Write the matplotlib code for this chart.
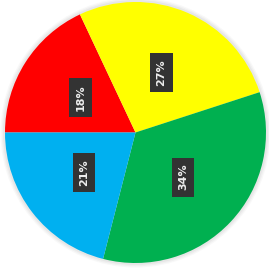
import matplotlib
matplotlib.use("Agg")
import matplotlib.pyplot as plt
from matplotlib.patches import Circle

labels = ["A", "B", "C", "D"]
values = [18, 27, 34, 21]
colors = ["#FF0000", "#FFFF00", "#00B050", "#00B0F0"]

fig = plt.figure(figsize=(2.69, 2.71), dpi=100)
fig.patch.set_facecolor("white")
ax = fig.add_axes([0, 0, 1, 1])

# soft shadow around pie
for r, a in [(1.035, 0.05), (1.025, 0.07), (1.015, 0.09)]:
    ax.add_patch(Circle((0, 0), r, color="#888888", alpha=a, lw=0, zorder=0))

wedges, texts, autotexts = ax.pie(
    values, colors=colors, startangle=180, counterclock=False,
    autopct="%1.0f%%", pctdistance=0.5, radius=1.0,
    wedgeprops=dict(linewidth=0),
    textprops=dict(color="#eeeeee", fontsize=8, fontweight="bold",
                   family="DejaVu Sans"),
)
for w in wedges:
    w.set_zorder(2)
for t in autotexts:
    t.set_rotation(90)
    t.set_zorder(3)
    t.set_bbox(dict(boxstyle="square,pad=0.55", facecolor="#333333",
                    edgecolor="none"))

R = 130.5
cx, cy = 135.5, 132.5
ax.set_aspect("auto")
ax.set_xlim(-cx / R, (269 - cx) / R)
ax.set_ylim(-(271 - cy) / R, cy / R)
ax.axis("off")

fig.savefig("out.png", dpi=100, facecolor="white")
